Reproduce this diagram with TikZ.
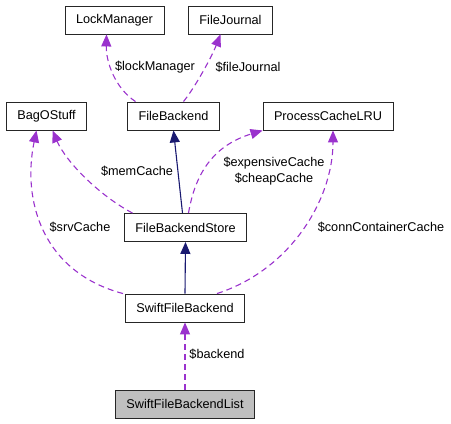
\documentclass[tikz,border=0pt]{standalone}
\usepackage{fontspec}
\setmainfont{Liberation Sans}
\usepackage{xcolor}
\usepackage{tikz}
\usetikzlibrary{arrows.meta}
\definecolor{usecolor}{HTML}{9A32CD}
\definecolor{inhcolor}{HTML}{191970}
\tikzset{
    classbox/.style={
        draw=black!85,
        line width=0.9pt,
        fill=white,
        font=\fontsize{12.7}{14}\selectfont,
        inner xsep=11pt,
        minimum height=28pt
    },
    currentbox/.style={
        classbox,
        fill=black!25
    },
    inherit/.style={
        -{Triangle[length=12pt,width=10pt,fill=inhcolor]},
        draw=inhcolor,
        line width=1.1pt
    },
    usage/.style={
        -{Triangle[length=12pt,width=10pt,fill=usecolor]},
        draw=usecolor,
        line width=1.1pt,
        dash pattern=on 6pt off 4pt
    },
    edgelabel/.style={
        font=\fontsize{12.7}{16}\selectfont,
        align=center,
        text=black
    }
}
\begin{document}
\begin{tikzpicture}[x=1pt,y=-1pt]
        \useasboundingbox (0,0) rectangle (451,424);

        \node[classbox] (lm) at (114.5,20) {LockManager};
        \node[classbox] (fj) at (230.5,20) {FileJournal};
        \node[classbox] (bag) at (46.5,116) {BagOStuff};
        \node[classbox] (fb) at (173.5,116) {FileBackend};
        \node[classbox] (lru) at (328,116) {ProcessCacheLRU};
        \node[classbox] (fbs) at (185.5,227.5) {FileBackendStore};
        \node[classbox] (sfb) at (185,308) {SwiftFileBackend};
        \node[currentbox] (sfbl) at (185,404) {SwiftFileBackendList};

        \draw[usage] ([xshift=-38pt]fb.north) .. controls (115,88) and (106,62) .. ([xshift=-8pt]lm.south)
            node[edgelabel] (lmlabel) at (155,67) {\$lockManager};
        \draw[usage] ([xshift=10pt]fb.north) .. controls (196,86) and (212,56) .. ([xshift=-10pt]fj.south)
            node[edgelabel] (fjlabel) at (248,67) {\$fileJournal};

        \draw[inherit] ([xshift=-3pt]fbs.north) -- (fb.south);
        \draw[inherit] (sfb.north) -- (fbs.south);

        \draw[usage] ([xshift=-53pt]fbs.north) .. controls (100,196) and (66,162) .. ([xshift=6pt]bag.south)
            node[edgelabel] (memlabel) at (137,171) {\$memCache};
        \draw[usage] ([xshift=-62pt]sfb.north) .. controls (42,272) and (22,200) .. ([xshift=-10pt]bag.south)
            node[edgelabel] (srvlabel) at (80,227) {\$srvCache};

        \draw[usage] ([xshift=3pt]fbs.north) .. controls (195,175) and (212,146) .. (lru.south west)
            node[edgelabel] (cachelabel) at (274,171) {\$expensiveCache\\\$cheapCache};
        \draw[usage] ([xshift=32pt]sfb.north) .. controls (290,270) and (333,200) .. ([xshift=5pt]lru.south)
            node[edgelabel] (connlabel) at (381,227) {\$connContainerCache};

        \draw[usage] (sfbl.north) -- (sfb.south)
            node[edgelabel] (belabel) at (217,354) {\$backend};
    \end{tikzpicture}
\end{document}
